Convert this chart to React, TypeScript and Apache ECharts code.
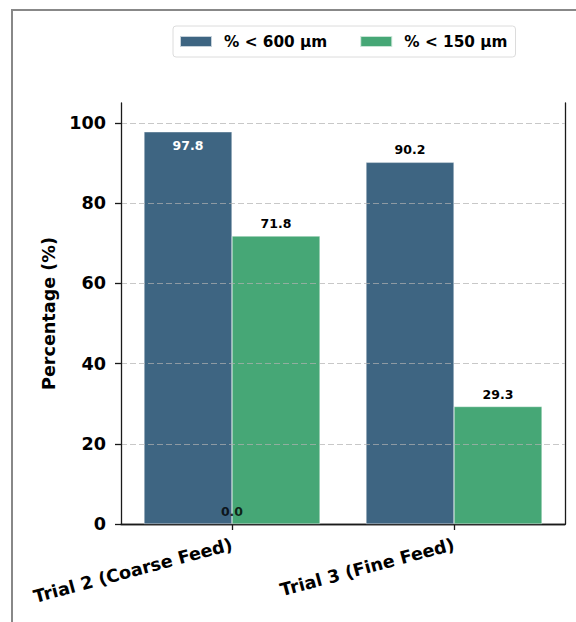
import React, { useEffect, useRef } from "react";
import * as echarts from "echarts";

const categories = ["Trial 2 (Coarse Feed)", "Trial 3 (Fine Feed)"];
const seriesNames = ["% < 600 µm", "% < 150 µm"];
const pass600 = [97.8, 90.2];
const pass150 = [71.8, 29.3];
const extraNoteCategory = ["Trial 2 (Coarse Feed)"];
const extraNoteValue = [0.0];
const yTicks = [0, 20, 40, 60, 80, 100];
const yMax = 105;

const FONT = "DejaVu Sans";
const BLUE = "#3e6582";
const GREEN = "#46a776";
const AX = 17.6;

export default function App() {
  const ref = useRef<HTMLDivElement>(null);
  useEffect(() => {
    if (!ref.current) return;
    const chart = echarts.init(ref.current, undefined, { renderer: "svg" });

    const barLabel = (v: number, inside: boolean) => ({
      value: v,
      label: inside
        ? { show: true, position: "insideTop", distance: 7, color: "#ffffff" }
        : { show: true, position: "top", distance: 6, color: "#000000" },
    });

    const fmt = (p: any) => {
      const v = Array.isArray(p.value) ? p.value[1] : p.value;
      return Number(v).toFixed(1);
    };

    const labelBase = {
      show: true,
      fontFamily: FONT,
      fontWeight: "bold",
      fontSize: 12.5,
      formatter: fmt,
    };

    chart.setOption({
      animation: false,
      backgroundColor: "#ffffff",
      textStyle: { fontFamily: FONT },
      grid: { left: 121, right: 11, top: 103, bottom: 98 },
      legend: {
        data: seriesNames,
        left: 173,
        top: 26,
        padding: [8, 8, 8, 6],
        itemGap: 32,
        itemWidth: 32,
        itemHeight: 11,
        borderColor: "#dcdcdc",
        borderWidth: 1,
        borderRadius: 3,
        textStyle: {
          fontFamily: FONT,
          fontWeight: "bold",
          fontSize: 15.3,
          color: "#000",
          padding: [0, 0, 0, 7],
        },
        icon: "rect",
      },
      xAxis: [
        {
          type: "category",
          data: categories,
          position: "bottom",
          axisLine: { show: true, lineStyle: { color: "#1a1a1a", width: 1.3 } },
          axisTick: { show: true, alignWithLabel: true, length: 6, lineStyle: { color: "#1a1a1a", width: 1.3 } },
          axisLabel: {
            rotate: 15,
            margin: 20,
            color: "#000",
            fontFamily: FONT,
            fontWeight: "bold",
            fontSize: AX,
            interval: 0,
          },
          splitLine: { show: false },
        },
        {
          type: "category",
          data: categories,
          position: "top",
          axisLine: { show: true, lineStyle: { color: "#1a1a1a", width: 1.3 } },
          axisTick: { show: false },
          axisLabel: { show: false },
        },
      ],
      yAxis: [
        {
          type: "value",
          min: 0,
          max: yMax,
          interval: 20,
          z: 10,
          name: "Percentage (%)",
          nameLocation: "middle",
          nameGap: 62,
          nameTextStyle: { fontFamily: FONT, fontWeight: "bold", fontSize: AX, color: "#000" },
          axisLine: { show: true, lineStyle: { color: "#1a1a1a", width: 1.3 } },
          axisTick: {
            show: true,
            length: 6,
            customValues: yTicks,
            lineStyle: { color: "#1a1a1a", width: 1.3 },
          },
          axisLabel: {
            margin: 15,
            color: "#000",
            fontFamily: FONT,
            fontWeight: "bold",
            fontSize: AX,
            customValues: yTicks,
          },
          splitLine: {
            show: true,
            showMinLine: false,
            showMaxLine: true,
            lineStyle: { color: "rgba(176,176,176,0.7)", width: 1.1, type: [6, 3] },
          },
        },
        {
          type: "value",
          min: 0,
          max: yMax,
          interval: 20,
          position: "right",
          axisLine: { show: true, lineStyle: { color: "#1a1a1a", width: 1.3 } },
          axisTick: { show: false },
          axisLabel: { show: false },
          splitLine: { show: false },
        },
      ],
      series: [
        {
          name: seriesNames[0],
          type: "bar",
          barWidth: 88,
          barGap: "0%",
          itemStyle: { color: BLUE, borderColor: "rgba(255,255,255,0.7)", borderWidth: 0.5 },
          label: labelBase,
          data: pass600.map((v) => barLabel(v, v > 95)),
        },
        {
          name: seriesNames[1],
          type: "bar",
          barWidth: 88,
          barGap: "0%",
          itemStyle: { color: GREEN, borderColor: "rgba(255,255,255,0.7)", borderWidth: 0.5 },
          label: labelBase,
          data: pass150.map((v) => barLabel(v, v > 95)),
        },
        {
          name: "note",
          type: "scatter",
          symbolSize: 0,
          silent: true,
          z: 12,
          label: { ...labelBase, position: "top", distance: 6, color: "#000" },
          data: extraNoteCategory.map((c, i) => [c, extraNoteValue[i]]),
        },
      ],
      graphic: [
        {
          type: "polyline",
          silent: true,
          shape: { points: [[12, 622], [12, 10], [576, 10]] },
          style: { fill: "none", stroke: "#888888", lineWidth: 2 },
        },
      ],
    });

    return () => chart.dispose();
  }, []);

  return (
    <div
      ref={ref}
      style={{ position: "absolute", left: 0, top: 0, width: 576, height: 622 }}
    />
  );
}
